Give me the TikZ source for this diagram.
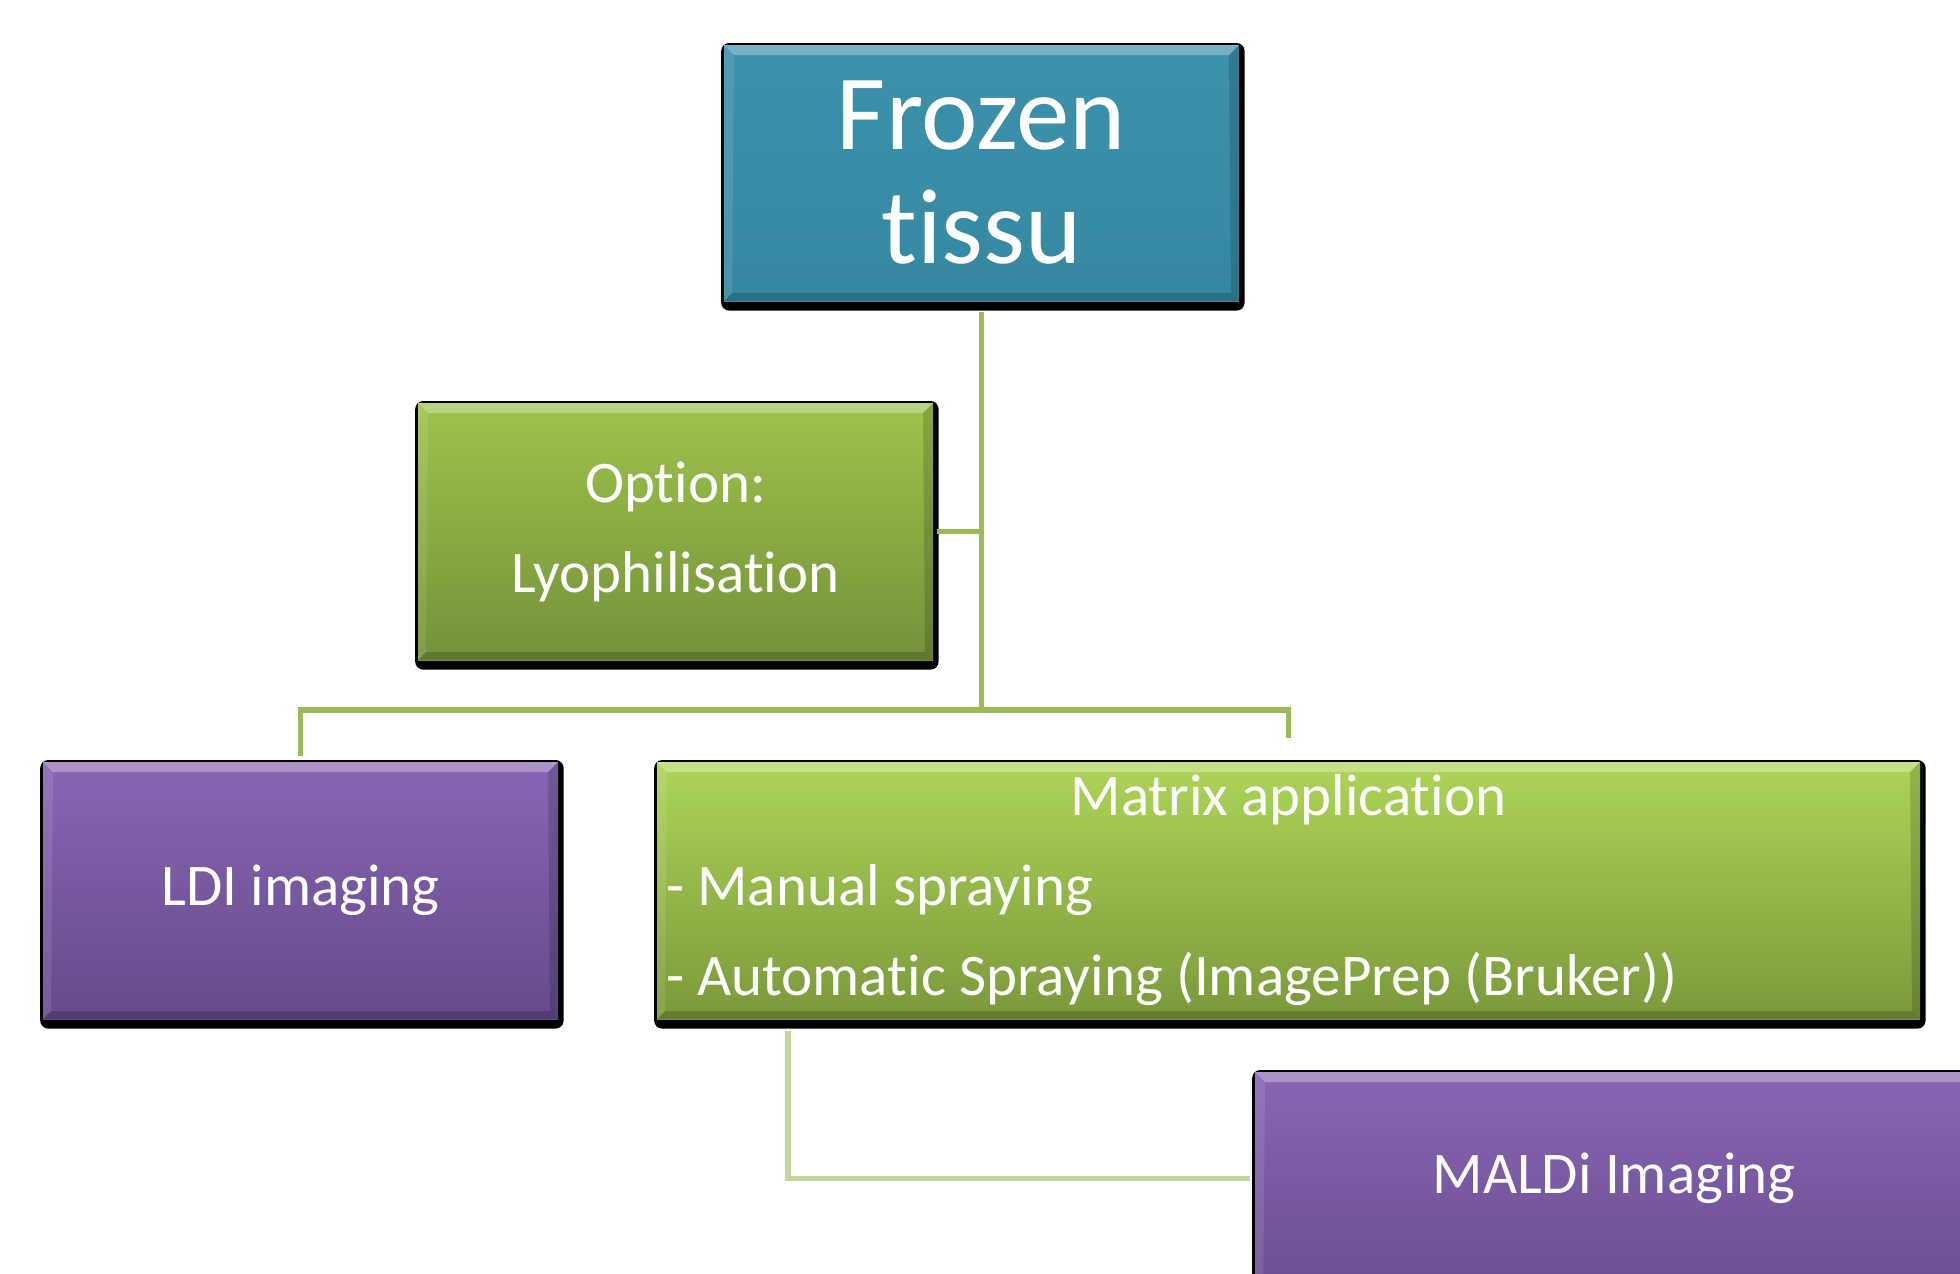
\documentclass[tikz,border=0pt]{standalone}
\usepackage{fontspec}
\setmainfont{Carlito}[Ligatures=NoCommon]
\usetikzlibrary{calc,backgrounds}

\definecolor{tealtop}{HTML}{3C91AB}
\definecolor{tealbot}{HTML}{3688A1}
\definecolor{olivetop}{HTML}{9DC34B}
\definecolor{olivebot}{HTML}{74923A}
\definecolor{limetop}{HTML}{ADD557}
\definecolor{limebot}{HTML}{7A993B}
\definecolor{violettop}{HTML}{8866B5}
\definecolor{violetbot}{HTML}{664A8A}
\definecolor{linkgreen}{HTML}{9BBB59}
\definecolor{linkpale}{HTML}{C0D79A}

\tikzset{
  card/.style 2 args={rectangle, inner sep=0pt, top color=#1, bottom color=#2,
    text=white, align=center,
    path picture={
      % bevel: light top edge, dark bottom edge, soft sides
      \fill[white,opacity=.3] (path picture bounding box.north west) -- (path picture bounding box.north east)
        -- ([xshift=-5pt,yshift=-5pt]path picture bounding box.north east) -- ([xshift=5pt,yshift=-5pt]path picture bounding box.north west) -- cycle;
      \fill[black,opacity=.18] (path picture bounding box.south west) -- (path picture bounding box.south east)
        -- ([xshift=-4pt,yshift=4pt]path picture bounding box.south east) -- ([xshift=4pt,yshift=4pt]path picture bounding box.south west) -- cycle;
      \fill[white,opacity=.1] (path picture bounding box.north west) -- ([xshift=5pt,yshift=-5pt]path picture bounding box.north west)
        -- ([xshift=4pt,yshift=4pt]path picture bounding box.south west) -- (path picture bounding box.south west) -- cycle;
      \fill[black,opacity=.15] (path picture bounding box.north east) -- ([xshift=-5pt,yshift=-5pt]path picture bounding box.north east)
        -- ([xshift=-4pt,yshift=4pt]path picture bounding box.south east) -- (path picture bounding box.south east) -- cycle;
    }},
  bodytext/.style={font=\fontsize{29.5}{45}\selectfont},
  link/.style={draw=linkgreen, line width=2.6pt},
  palelink/.style={draw=linkpale, line width=2.6pt},
}

\newcommand\cardshadow[1]{%
  \fill[black, rounded corners=4pt] ([xshift=-1.2pt,yshift=0.8pt]#1.north west) rectangle ([xshift=2.6pt,yshift=-4.6pt]#1.south east);}
\newcommand\rowwidth{622.5pt}

\begin{document}
\begin{tikzpicture}[x=0.5pt,y=-0.5pt]
\useasboundingbox (0,0) rectangle (1960,1274);
\clip (0,0) rectangle (1960,1274);

% boxes
\node[card={tealtop}{tealbot}, minimum width=257.5pt, minimum height=128pt,
      font=\fontsize{53.5}{57}\selectfont] (frozen) at (981.5,173) {Frozen\\tissu};
\node[card={olivetop}{olivebot}, bodytext, minimum width=257.5pt, minimum height=128.5pt]
      (option) at (675.5,531.5) {Option:\\Lyophilisation};
\node[card={violettop}{violetbot}, bodytext, minimum width=257.5pt, minimum height=128.5pt]
      (ldi) at (300.5,890.5) {LDI imaging};
\node[card={limetop}{limebot}, bodytext, minimum width=631.5pt, minimum height=128.5pt]
      (matrix) at (1288.5,890.5)
      {\makebox[\rowwidth]{Matrix application}\\
       \makebox[\rowwidth][l]{- Manual spraying}\\
       \makebox[\rowwidth][l]{- Automatic Spraying (ImagePrep (Bruker))}};
\node[card={violettop}{violetbot}, minimum width=359pt, minimum height=128.5pt]
      (maldi) at (1614,1200.5) {};
\node[text=white, bodytext] (malditext) at ([yshift=11pt]maldi.center) {MALDi Imaging};

\begin{pgfonlayer}{background}
  \cardshadow{frozen}
  \cardshadow{option}
  \cardshadow{ldi}
  \cardshadow{matrix}
  \cardshadow{maldi}
\end{pgfonlayer}

% connectors
\coordinate (hub) at (984,710);
\draw[link] ([yshift=-5.5pt]frozen.south) -- (frozen.south |- hub);
\draw[link] ([xshift=2pt]option.east) -- (option.east -| hub);
\draw[link] ([yshift=3pt]ldi.north) |- (hub) -| ([yshift=12pt]matrix.north);
\coordinate (tap) at (788,1031);
\draw[palelink] (tap) |- ([xshift=-2.5pt]maldi.west |- malditext);
\end{tikzpicture}
\end{document}
